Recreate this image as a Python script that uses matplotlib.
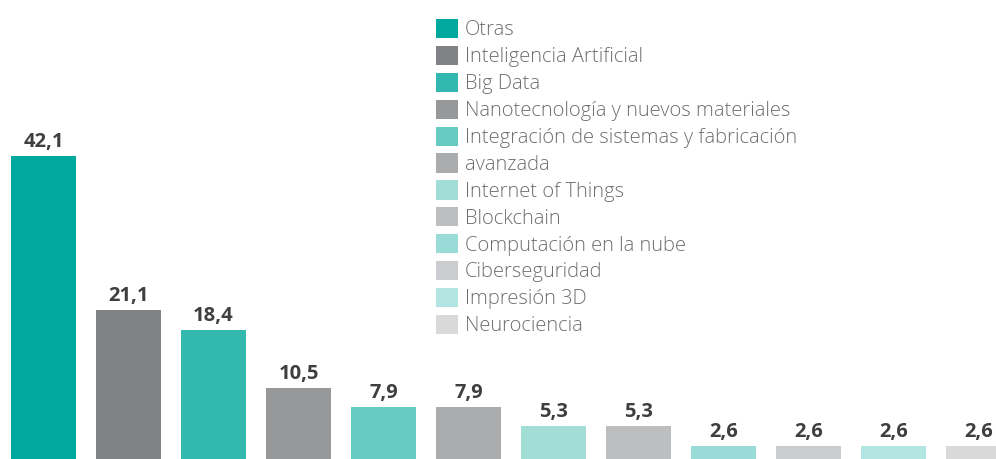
import matplotlib
matplotlib.use('Agg')
import matplotlib.pyplot as plt
from matplotlib.patches import Patch

plt.rcParams['font.family'] = ['Open Sans', 'DejaVu Sans']

categories = ['Otras', 'Inteligencia Artificial', 'Big Data',
              'Nanotecnología y nuevos materiales',
              'Integración de sistemas y fabricación', 'avanzada',
              'Internet of Things', 'Blockchain', 'Computación en la nube',
              'Ciberseguridad', 'Impresión 3D', 'Neurociencia']
values = [42.1, 21.1, 18.4, 10.5, 7.9, 7.9, 5.3, 5.3, 2.6, 2.6, 2.6, 2.6]
colors = ['#00a89d', '#818286', '#33b8b0', '#97989a', '#66c9c2', '#abacae',
          '#a3ded6', '#bdbec0', '#99dcd7', '#cbcccf', '#b2e4e1', '#d9d9da']


def main():
    fig = plt.figure(figsize=(9.96, 4.59), dpi=100)
    ax = fig.add_axes([0, 0, 1, 1])

    x = range(len(values))
    bars = ax.bar(x, values, width=0.765, color=colors)
    labels = [f"{v:.1f}".replace('.', ',') for v in values]
    ax.bar_label(bars, labels=labels, padding=3, fontsize=14.5,
                 fontweight='bold', color='#3f3f41')

    ax.set_xlim(-0.512, 11.206)
    ax.set_ylim(0.83, 63.4)
    ax.axis('off')

    handles = [Patch(facecolor=c, edgecolor='none') for c in colors]
    ax.legend(handles, categories, loc='upper left',
              bbox_to_anchor=(436 / 996, 1 - 19 / 459), bbox_transform=fig.transFigure,
              frameon=False, labelcolor='#6d6e71',
              prop={'weight': 'light', 'size': 14.5},
              handlelength=1.09, handleheight=1.09, handletextpad=0.34,
              labelspacing=0.27, borderpad=0, borderaxespad=0)

    fig.savefig('out.png', dpi=100)
    plt.close(fig)


if __name__ == '__main__':
    main()
